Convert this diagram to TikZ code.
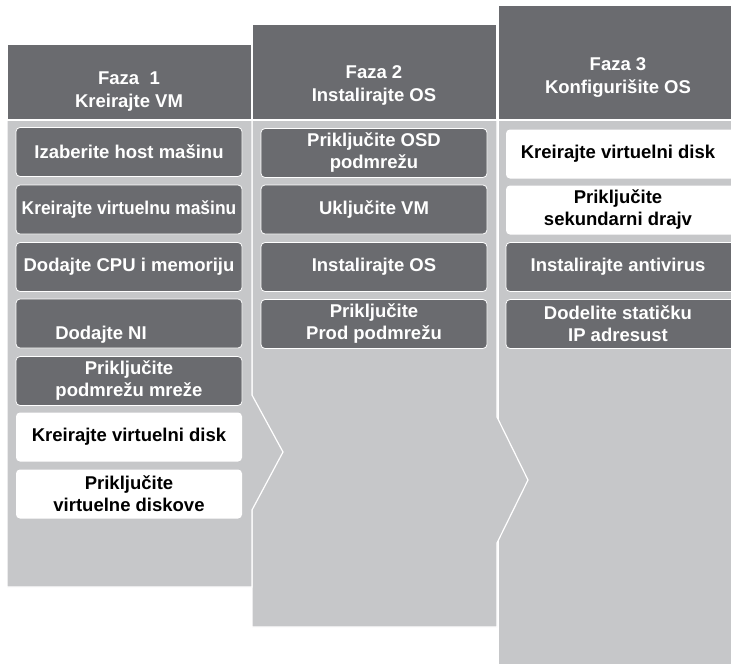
\documentclass[tikz,border=0pt]{standalone}
\usepackage{fontspec}
\setmainfont{Liberation Sans}
\usepackage{tikz}
\usetikzlibrary{positioning}
\definecolor{hdrgrey}{RGB}{106,107,111}
\definecolor{bodygrey}{RGB}{198,199,201}
\tikzset{
  colbody/.style={fill=bodygrey,draw=white,line width=1.2pt},
  colhead/.style={fill=hdrgrey,draw=white,line width=1.2pt},
  headtxt/.style={text=white,font=\fontsize{18.5}{23}\selectfont\bfseries,align=center},
  darkbox/.style={draw=white,line width=0.8pt,rounded corners=4pt,fill=hdrgrey,text=white,
               font=\fontsize{18.5}{22}\selectfont\bfseries,align=center,
               minimum width=226pt,minimum height=49pt,inner sep=0pt},
  lightbox/.style={darkbox,draw=none,fill=white,text=black}
}
\begin{document}
\begin{tikzpicture}[x=1pt,y=-1pt]
  \useasboundingbox (0,0) rectangle (731,664);
  \clip (0,0) rectangle (731,664);
  % column bodies and headers
  \draw[colbody] (498,120) -- (735,120) -- (735,670) -- (498,670) -- cycle;
  \draw[colhead] (498,5) rectangle (735,120);
  \draw[colbody] (252,120) -- (497,120) -- (497,417) -- (528,480) -- (497,543) -- (497,627) -- (252,627) -- cycle;
  \draw[colhead] (252,24) rectangle (497,120);
  \draw[colbody] (7,120) -- (252,120) -- (252,395) -- (283,452) -- (252,510) -- (252,587) -- (7,587) -- cycle;
  \draw[colhead] (7,44) rectangle (252,120);
  \node[headtxt] (h1) at (129,92) {Faza\ \ 1\\Kreirajte VM};
  \node[headtxt] (h2) at (374,85) {Faza\ 2\\Instalirajte OS};
  \node[headtxt] (h3) at (618,77) {Faza 3\\Konfigurišite OS};
  % faza 1
  \node[darkbox] (a1) at (129,152) {Izaberite host mašinu};
  \node[darkbox] (a2) at (129,209.5) {\scalebox{0.94}[1]{Kreirajte virtuelnu mašinu}};
  \node[darkbox] (a3) at (129,267) {Dodajte CPU i memoriju};
  \node[darkbox] (a4) at (129,323.5) {\strut\\[-1pt]Dodajte NI\hspace*{56pt}};
  \node[darkbox] (a5) at (129,381) {Priključite\\podmrežu mreže};
  \node[lightbox] (a6) at (129,437) {Kreirajte virtuelni disk};
  \node[lightbox] (a7) at (129,494) {Priključite\\virtuelne diskove};
  % faza 2
  \node[darkbox] (b1) at (374,153) {Priključite OSD\\podmrežu};
  \node[darkbox] (b2) at (374,209.5) {Uključite VM};
  \node[darkbox] (b3) at (374,267) {Instalirajte OS};
  \node[darkbox] (b4) at (374,324) {Priključite\\Prod podmrežu};
  % faza 3
  \node[lightbox,minimum width=236pt] (c1) at (624,154) {\hspace*{-12pt}Kreirajte virtuelni disk};
  \node[lightbox,minimum width=236pt] (c2) at (624,210) {\hspace*{-12pt}Priključite\\\hspace*{-12pt}sekundarni drajv};
  \node[darkbox,minimum width=236pt] (c3) at (624,267) {\hspace*{-12pt}Instalirajte antivirus};
  \node[darkbox,minimum width=236pt] (c4) at (624,324) {\hspace*{-12pt}Dodelite statičku\\\hspace*{-12pt}IP adresust};
\end{tikzpicture}
\end{document}
